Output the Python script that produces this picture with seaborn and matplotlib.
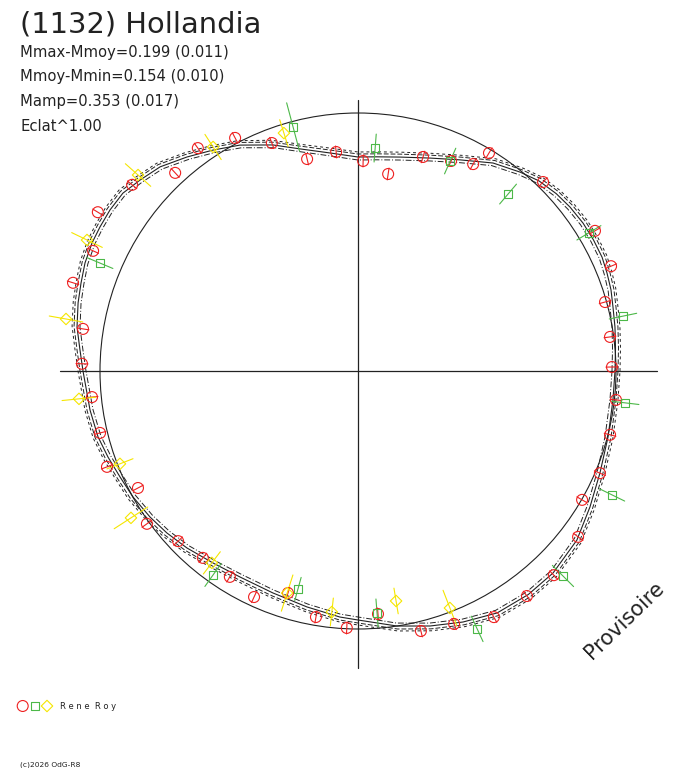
import numpy as np
import matplotlib
matplotlib.use('Agg')
import matplotlib.pyplot as plt
import seaborn as sns

# fitted lightcurve (polar): phase angle in degrees, radius in plot units (ref circle = 258)
curve_phase = [0, 5, 9.7, 14.1, 17.8, 21.5, 25.0, 29.1, 33.3, 37.7, 41.8, 46.4, 50.8, 57.0,
               64.2, 71.3, 78.9, 85, 90, 97.3, 104.6, 110.6, 117.6, 123.3, 128.6, 134.1,
               138.8, 142.9, 147.0, 150.8, 154.3, 158.4, 162.4, 166.3, 171.1, 175.5, 180,
               188.3, 194.2, 199.0, 204.0, 209.2, 215.1, 220.3, 226.0, 232.9, 240.2, 249.0,
               257.8, 265.8, 270, 278.7, 285.8, 292.7, 299.9, 307.3, 314.0, 322.3, 329.6,
               337.1, 345.2, 353.5]
curve_r = [257, 258.5, 260.7, 262.9, 265.7, 267.6, 269.3, 269.5, 269.3, 268.0, 266.0, 262.5, 256.6, 248.0,
           234.5, 224.8, 218.0, 215, 214, 219.8, 229.5, 241.5, 254.9, 264.3, 273.9, 284.3,
           289.8, 294.8, 295.7, 295.5, 295.2, 293.6, 290.6, 288.1, 284.4, 279, 275,
           270.8, 268.2, 264.4, 260.5, 257.9, 254.1, 250.5, 246.1, 240.6, 237.4, 237.7,
           241.4, 246.7, 249, 258, 265, 272.1, 279.1, 281, 280.8, 276.6, 268.9,
           262.6, 258.6, 256.6]
ref_radius = 258

# observations, Rene Roy, three sessions
red_phase = [117.8, 125.7, 132.7, 140.5, 148.6, 155.6, 162.8, 171.3, 178.5, 110.7, 103.5, 95.7,
             88.6, 81.3, 73.1, 66.1, 60.9, 59.0, 45.6, 30.6, 22.5, 15.6, 7.7, 0.9, 353.6,
             345.8, 337.1, 330.1, 323.0, 313.8, 306.9, 298.9, 290.8, 283.6, 274.7, 185.6,
             193.5, 200.9, 208.0, 215.9, 223.4, 230.3, 238.1, 245.3, 252.5, 260.3, 267.5]
red_r = [263.5, 274.5, 269.6, 292.7, 304.8, 290.9, 298.3, 278.2, 276.1, 243.7, 218.0, 220.1,
         210.1, 199.3, 223.7, 229.7, 236.8, 254.3, 264.5, 275.3, 273.9, 256.5, 254.3, 254.0, 259.6,
         260.0, 262.6, 258.5, 275.6, 282.9, 281.4, 281.1, 270.6, 267.5, 243.8, 267.3,
         265.3, 268.7, 249.2, 260.6, 247.6, 242.9, 242.5, 248.8, 232.8, 249.6, 257.2]
red_err = 6

green_phase = [104.9, 157.3, 85.6, 66.3, 49.7, 30.9, 11.7, 353.2, 334.0, 315.0, 294.8, 274.5, 234.6, 254.6]
green_r = [252.5, 279.7, 223.6, 229.3, 232.0, 269.1, 270.6, 268.9, 282.7, 289.9, 284.1, 242.7, 250.3, 226.1]
green_err = [25, 14, 14, 14, 13, 14, 14, 14, 14, 15, 14, 14, 14, 12]

yellow_phase = [122.9, 138.3, 154.2, 169.9, 107.3, 185.7, 201.3, 212.9, 232.7, 252.3, 263.8, 279.4, 291.2]
yellow_r = [266.8, 294.6, 301.0, 296.6, 249.2, 280.4, 255.5, 270.4, 241.2, 233.1, 242.4, 233.1, 254.2]
yellow_err = [15, 17, 17, 17, 14, 17, 14, 20, 14, 19, 14, 13, 19]

RED, GREEN, YELLOW, INK = '#ee2020', '#4cb848', '#f5e600', '#222222'


def to_xy(phase, r):
    t = np.deg2rad(np.asarray(phase, float))
    r = np.asarray(r, float)
    return r * np.cos(t), r * np.sin(t)


def radial_bars(phase, r, err):
    t = np.deg2rad(np.asarray(phase, float))
    r = np.asarray(r, float)
    e = np.broadcast_to(np.asarray(err, float), r.shape)
    xs, ys = [], []
    for ti, ri, ei in zip(t, r, e):
        xs += [(ri - ei) * np.cos(ti), (ri + ei) * np.cos(ti), np.nan]
        ys += [(ri - ei) * np.sin(ti), (ri + ei) * np.sin(ti), np.nan]
    return xs, ys


sns.set_theme(style='white')
plt.rcParams['font.family'] = ['DejaVu Sans']

fig = plt.figure(figsize=(6.88, 7.68), dpi=100)
ax = fig.add_axes([0, 0, 1, 1])
ax.set_xlim(-358, 330)
ax.set_ylim(-397, 371)
ax.axis('off')

# cross
ax.plot([-298, 299], [0, 0], color=INK, lw=0.9)
ax.plot([0, 0], [-297, 271], color=INK, lw=0.9)

# reference circle
ax.add_patch(plt.Circle((0, 0), ref_radius, fill=False, color=INK, lw=0.8))

# fitted curve and its envelope
cphase = list(curve_phase) + [curve_phase[0]]
cr = np.array(list(curve_r) + [curve_r[0]])
cx, cy = to_xy(cphase, cr)
sns.lineplot(x=cx, y=cy, sort=False, estimator=None, color=INK, lw=0.8, ax=ax)
for off, ls in [(3, (0, (5, 2))), (-3, (0, (6, 2, 1, 2))), (5, (0, (3, 3)))]:
    ex, ey = to_xy(cphase, cr + off)
    sns.lineplot(x=ex, y=ey, sort=False, estimator=None, color=INK, lw=0.7,
                 linestyle=ls, ax=ax)

# error bars
for ph, rr, er, col in [(red_phase, red_r, red_err, RED),
                        (green_phase, green_r, green_err, GREEN),
                        (yellow_phase, yellow_r, yellow_err, YELLOW)]:
    bx, by = radial_bars(ph, rr, er)
    ax.plot(bx, by, color=col, lw=0.8, zorder=4)

# markers
x, y = to_xy(red_phase, red_r)
sns.scatterplot(x=x, y=y, marker='o', s=62, facecolors='none', edgecolor=RED,
                linewidth=0.8, ax=ax, zorder=5)
x, y = to_xy(green_phase, green_r)
sns.scatterplot(x=x, y=y, marker='s', s=34, facecolors='none', edgecolor=GREEN,
                linewidth=0.8, ax=ax, zorder=5)
x, y = to_xy(yellow_phase, yellow_r)
sns.scatterplot(x=x, y=y, marker='D', s=34, facecolors='none', edgecolor=YELLOW,
                linewidth=0.8, ax=ax, zorder=5)

# legend
ax.scatter([-335.3], [-335], marker='o', s=62, facecolors='none', edgecolors=RED, linewidths=0.8)
ax.scatter([-323], [-335], marker='s', s=34, facecolors='none', edgecolors=GREEN, linewidths=0.8)
ax.scatter([-311], [-335], marker='D', s=34, facecolors='none', edgecolors=YELLOW, linewidths=0.8)
fig.text(60 / 688, 1 - 709 / 768, 'R e n e  R o y', fontsize=6, color=INK, va='baseline')

# texts
fig.text(20 / 688, 1 - 32 / 768, '(1132) Hollandia', fontsize=20.8, color=INK, va='baseline')
stats = ['Mmax-Mmoy=0.199 (0.011)', 'Mmoy-Mmin=0.154 (0.010)',
         'Mamp=0.353 (0.017)', 'Eclat^1.00']
for i, s in enumerate(stats):
    fig.text(20 / 688, 1 - (56.7 + 24.8 * i) / 768, s, fontsize=10.6, color=INK, va='baseline')
fig.text(624 / 688, 1 - 620 / 768, 'Provisoire', fontsize=15, color=INK,
         rotation=44, ha='center', va='center', rotation_mode='anchor')
fig.text(20 / 688, 1 - 766 / 768, '(c)2026 OdG-R8', fontsize=5.4, color=INK, va='baseline')

fig.savefig('out.png', dpi=100)
